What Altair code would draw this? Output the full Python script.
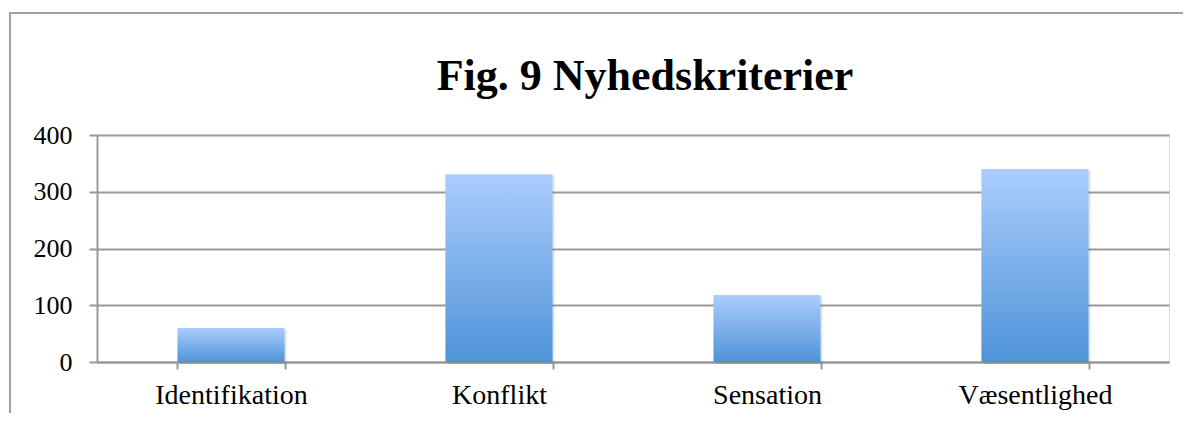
import altair as alt
import pandas as pd

categories = ["Identifikation", "Konflikt", "Sensation", "Væsentlighed"]
values = [60, 331, 118, 340]
y_ticks = [0, 100, 200, 300, 400]

df = pd.DataFrame({"kategori": categories, "antal": values})

W, H = 1072, 227
FONT = "Liberation Serif"

gradient = alt.Gradient(
    gradient="linear",
    stops=[alt.GradientStop(color="#abcdfd", offset=0),
           alt.GradientStop(color="#4f93d8", offset=1)],
    x1=0, x2=0, y1=0, y2=1,
)

xenc = alt.X("kategori:N", sort=categories, title=None,
             scale=alt.Scale(paddingInner=0.6, paddingOuter=0.3),
             axis=alt.Axis(labelAngle=0, labelFont=FONT, labelFontSize=28,
                           labelColor="#000000", labelPadding=12,
                           domainColor="#999999", domainWidth=2,
                           tickColor="#999999", tickWidth=2, tickSize=7,
                           tickBand="extent", grid=False))
yenc = alt.Y("antal:Q", title=None,
             scale=alt.Scale(domain=[0, 400], nice=False),
             axis=alt.Axis(values=y_ticks, labelFont=FONT, labelFontSize=26,
                           labelColor="#000000", labelPadding=17,
                           domainColor="#999999", domainWidth=2,
                           tickColor="#999999", tickWidth=2, tickSize=8,
                           grid=True, gridColor="#999999", gridWidth=2))

base = alt.Chart(df)

shadow = base.mark_bar(color="#000000", opacity=0.10, xOffset=2, yOffset=2).encode(
    x=xenc, y=yenc)

bars = base.mark_bar(color=gradient).encode(x=xenc, y=yenc)

frame_left = alt.Chart(df.head(1)).mark_rule(color="#a0a0a0", strokeWidth=2).encode(
    x=alt.value(-87), y=alt.value(-122), y2=alt.value(300))
frame_top = alt.Chart(df.head(1)).mark_rule(color="#a0a0a0", strokeWidth=2).encode(
    x=alt.value(-88), x2=alt.value(1100), y=alt.value(-122))

chart = alt.layer(frame_left, frame_top, shadow, bars).properties(
    width=W, height=H,
    title=alt.TitleParams("Fig. 9 Nyhedskriterier", font=FONT, fontSize=44,
                          fontWeight="bold", color="#000000", anchor="middle",
                          frame="group", baseline="alphabetic",
                          offset=-122, dx=12),
    autosize=alt.AutoSizeParams(type="none"),
    padding={"left": 89, "top": 127, "right": 14, "bottom": 51},
).configure_view(stroke=None).configure(background="#ffffff")

chart.save("out.html", embed_options={"renderer": "svg", "actions": False})
